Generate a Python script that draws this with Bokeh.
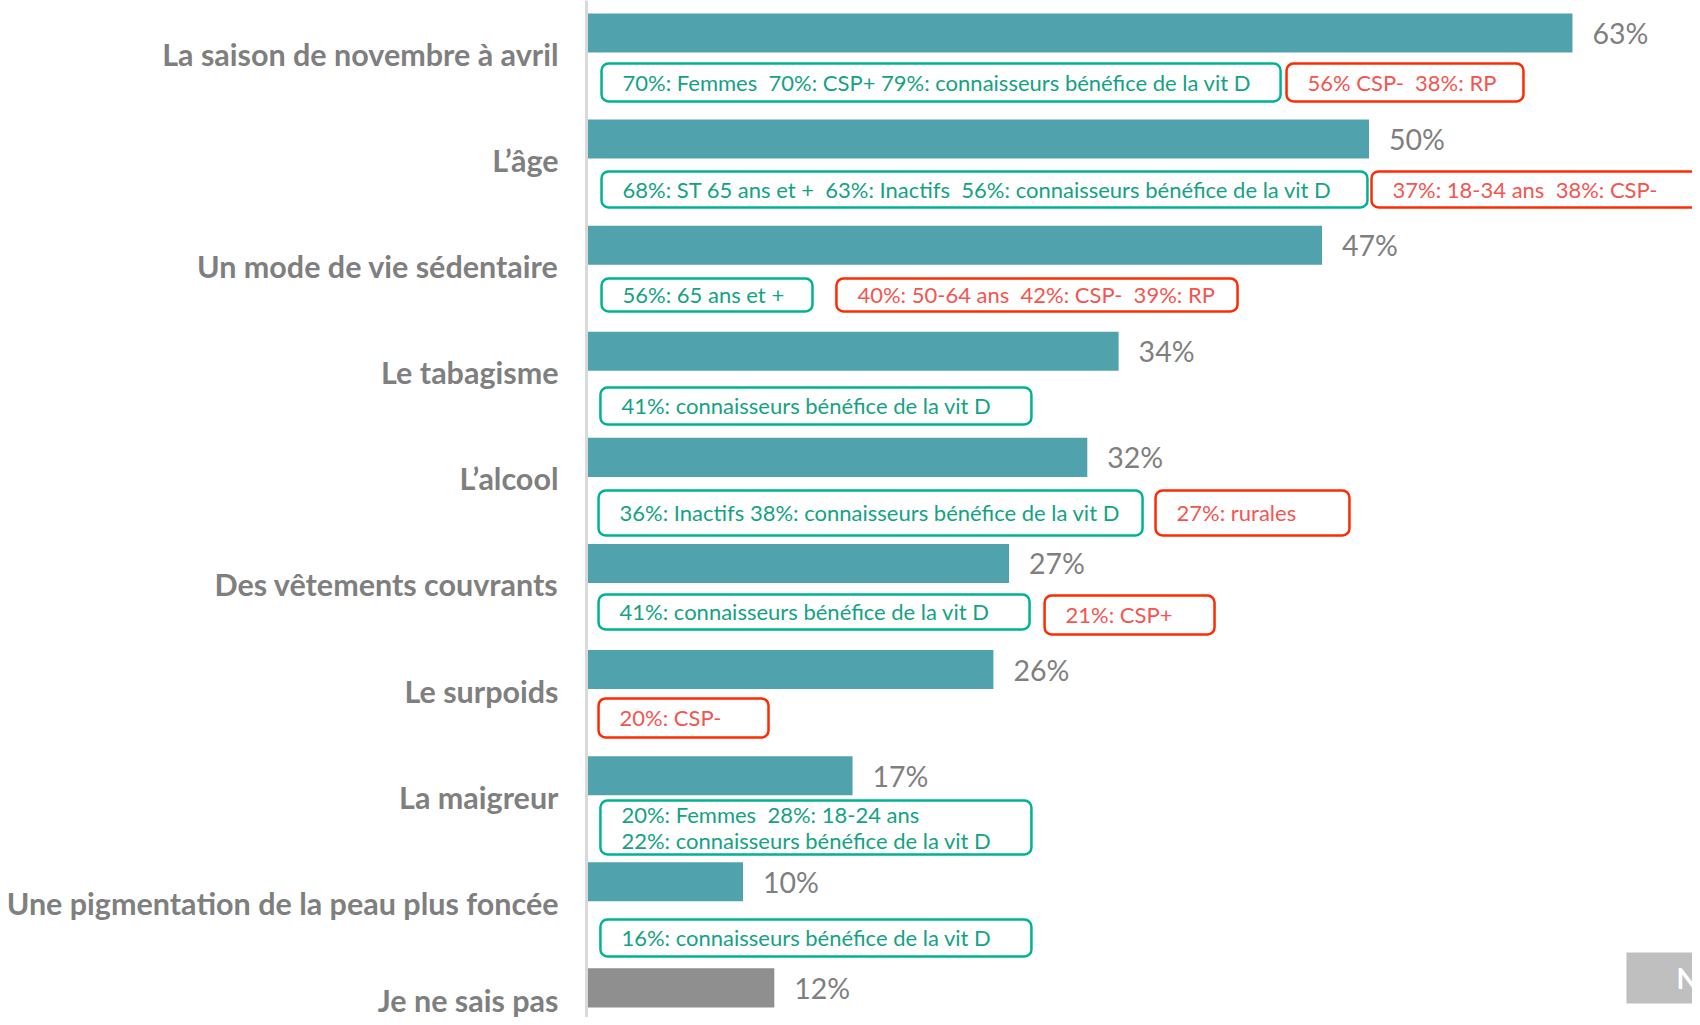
from bokeh.plotting import figure
from bokeh.models import Range1d, FixedTicker, ColumnDataSource
from bokeh.transform import dodge
from bokeh.core.properties import value
from bokeh.embed import file_html
from bokeh.resources import INLINE

# ---------------- data ----------------
categories = [
    "La saison de novembre à avril",
    "L’âge",
    "Un mode de vie sédentaire",
    "Le tabagisme",
    "L’alcool",
    "Des vêtements couvrants",
    "Le surpoids",
    "La maigreur",
    "Une pigmentation de la peau plus foncée",
    "Je ne sais pas",
]
values = [63, 50, 47, 34, 32, 27, 26, 17, 10, 12]

# annotation boxes: category index, kind ("plus" = over-represented, "minus" = under-represented), text
ann_category = [0, 0, 1, 1, 2, 2, 3, 4, 4, 5, 5, 6, 7, 8]
ann_kind = ["plus", "minus", "plus", "minus", "plus", "minus", "plus", "plus", "minus",
            "plus", "minus", "minus", "plus", "plus"]
ann_text = [
    "70%: Femmes  70%: CSP+ 79%: connaisseurs bénéfice de la vit D",
    "56% CSP-  38%: RP",
    "68%: ST 65 ans et +  63%: Inactifs  56%: connaisseurs bénéfice de la vit D",
    "37%: 18-34 ans  38%: CSP-",
    "56%: 65 ans et +",
    "40%: 50-64 ans  42%: CSP-  39%: RP",
    "41%: connaisseurs bénéfice de la vit D",
    "36%: Inactifs 38%: connaisseurs bénéfice de la vit D",
    "27%: rurales",
    "41%: connaisseurs bénéfice de la vit D",
    "21%: CSP+",
    "20%: CSP-",
    "20%: Femmes  28%: 18-24 ans\n22%: connaisseurs bénéfice de la vit D",
    "16%: connaisseurs bénéfice de la vit D",
]
side_tab_text = "No"

# ---------------- layout (positions / sizes) ----------------
# box extents: x in % units, y offsets relative to category position
box_left = [0.96, 44.73, 0.96, 50.16, 0.96, 15.97, 0.89, 0.77, 36.36, 0.77, 29.27, 0.77, 0.89, 0.89]
box_right = [44.35, 59.87, 49.90, 80.0, 14.44, 41.60, 28.43, 35.53, 48.75, 28.31, 40.13, 11.63, 28.43, 28.43]
box_top_off = [0.090, 0.090, 0.107, 0.107, 0.116, 0.116, 0.143, 0.114, 0.114, 0.094, 0.104, 0.074, 0.036, 0.157]
box_bot_off = [0.448, 0.448, 0.447, 0.447, 0.427, 0.427, 0.492, 0.538, 0.538, 0.424, 0.471, 0.442, 0.545, 0.506]

BAR_SHIFT = -0.198
BAR_HEIGHT = 0.368

TEAL = "#50a3ad"
GREY_BAR = "#8f8f8f"
LABEL_GREY = "#7f7f7f"
GREEN_LINE = "#00b294"
GREEN_TEXT = "#13a383"
RED_LINE = "#ff2a00"
RED_TEXT = "#f55550"
FONT = "Lato"

bar_colors = [TEAL] * (len(values) - 1) + [GREY_BAR]

src = ColumnDataSource(dict(
    idx=list(range(len(categories))),
    val=values,
    lab=[f"{v}%" for v in values],
    color=bar_colors,
))

p = figure(
    width=1692, height=1017,
    output_backend="svg", toolbar_location=None,
    x_range=Range1d(0, 70.67), y_range=Range1d(9.081, -0.504),
    x_axis_location=None,
    min_border_left=586, min_border_right=0, min_border_top=0, min_border_bottom=0,
)
p.outline_line_color = None
p.xgrid.visible = False
p.ygrid.visible = False
p.background_fill_color = "white"

# category axis
ax = p.yaxis[0]
ax.ticker = FixedTicker(ticks=list(range(len(categories))))
ax.major_label_overrides = {i: c for i, c in enumerate(categories)}
ax.major_tick_line_color = None
ax.minor_tick_line_color = None
ax.major_tick_out = 0
ax.major_tick_in = 0
ax.major_label_standoff = 28
ax.major_label_text_font = FONT
ax.major_label_text_font_style = "bold"
ax.major_label_text_font_size = "30.5px"
ax.major_label_text_color = LABEL_GREY
ax.axis_line_color = "#d9d9d9"
ax.axis_line_width = 3

# bars
p.hbar(y=dodge("idx", BAR_SHIFT, range=p.y_range), left=0, right="val", height=BAR_HEIGHT,
       fill_color="color", line_color=None, source=src)

# value labels
p.text(x="val", y=dodge("idx", BAR_SHIFT, range=p.y_range), text="lab", source=src,
       x_offset=20, text_baseline="middle", text_align="left",
       text_font=value(FONT), text_font_size="28.5px", text_color=LABEL_GREY)

# annotation boxes
tops = [c + t for c, t in zip(ann_category, box_top_off)]
bots = [c + b for c, b in zip(ann_category, box_bot_off)]
mids = [(a + b) / 2 for a, b in zip(tops, bots)]
line_cols = [GREEN_LINE if k == "plus" else RED_LINE for k in ann_kind]
text_cols = [GREEN_TEXT if k == "plus" else RED_TEXT for k in ann_kind]
shown_text = [t.replace("  ", " \u00a0") for t in ann_text]  # keep double spaces in SVG
asrc = ColumnDataSource(dict(left=box_left, right=box_right, top=tops, bottom=bots, mid=mids,
                             lc=line_cols, tc=text_cols, text=shown_text))
p.quad(left="left", right="right", top="top", bottom="bottom", source=asrc,
       fill_color="white", line_color="lc", line_width=2.5, border_radius=7)
p.text(x="left", y="mid", text="text", source=asrc, x_offset=21,
       text_baseline="middle", text_align="left", text_line_height=0.98,
       text_font=value(FONT), text_font_size="22px", text_color="tc")

# grey side tab at the bottom right (cut by the page edge)
p.quad(left=[66.45], right=[80.0], top=[9 - 0.532], bottom=[9 - 0.051],
       fill_color="#bfbfbf", line_color=None)
p.text(x=[66.45], y=[9 - 0.29], text=[side_tab_text], x_offset=50,
       text_baseline="middle", text_align="left",
       text_font=value(FONT), text_font_style="bold", text_font_size="28px", text_color="white")

open("out.html", "w").write(file_html(p, INLINE))
